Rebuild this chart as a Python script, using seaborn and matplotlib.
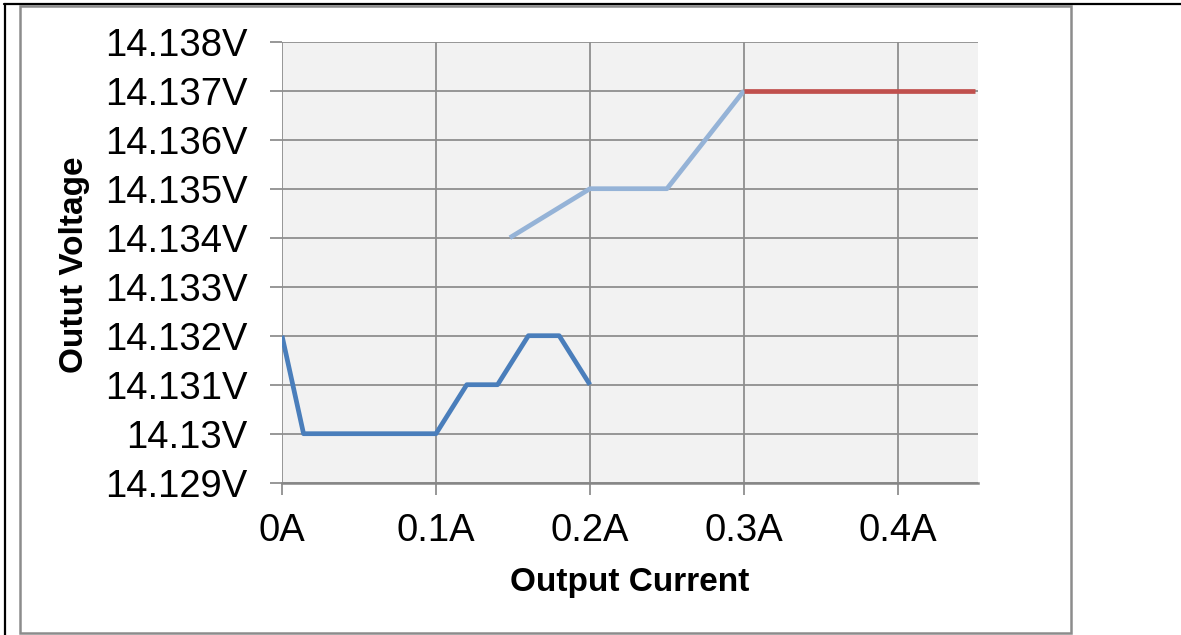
import matplotlib
matplotlib.use('Agg')

import seaborn as sns
import matplotlib.pyplot as plt
import pandas as pd
from matplotlib.lines import Line2D
from matplotlib.patches import Rectangle
from matplotlib.ticker import FuncFormatter, MultipleLocator

# measured series (current in A, voltage in V)
low_current = [0.0, 0.014, 0.1, 0.12, 0.14, 0.16, 0.18, 0.2]
low_voltage = [14.132, 14.130, 14.130, 14.131, 14.131, 14.132, 14.132, 14.131]

mid_current = [0.148, 0.2, 0.25, 0.3]
mid_voltage = [14.134, 14.135, 14.135, 14.137]

high_current = [0.3, 0.45]
high_voltage = [14.137, 14.137]

series_colors = ['#4A7EBB', '#95B3D7', '#C0504D']

W, H = 1181, 635
grid_color = '#8f8f8f'

sns.set_theme(style='white')
plt.rcParams['font.family'] = ['Liberation Sans', 'DejaVu Sans']

fig = plt.figure(figsize=(W / 100, H / 100), dpi=100)
ax = fig.add_axes([282 / W, 1 - 482.7 / H, (978 - 282) / W, (482.7 - 41.7) / H])
ax.set_facecolor('#f2f2f2')

frames = [
    pd.DataFrame({'current': low_current, 'voltage': low_voltage}),
    pd.DataFrame({'current': mid_current, 'voltage': mid_voltage}),
    pd.DataFrame({'current': high_current, 'voltage': high_voltage}),
]
for df, color in zip(frames, series_colors):
    sns.lineplot(data=df, x='current', y='voltage', ax=ax, color=color,
                 linewidth=3.4, solid_capstyle='butt', zorder=3)

ax.set_xlim(0, 0.452)
ax.set_ylim(14.129, 14.138)
ax.xaxis.set_major_locator(MultipleLocator(0.1))
ax.yaxis.set_major_locator(MultipleLocator(0.001))
ax.xaxis.set_major_formatter(FuncFormatter(lambda v, p: f'{round(v, 3):g}A'))
ax.yaxis.set_major_formatter(FuncFormatter(lambda v, p: f'{v:.3f}'.rstrip('0') + 'V'))

ax.grid(True, color=grid_color, linewidth=1.3)
ax.set_axisbelow(True)
for side in ['top', 'right', 'left']:
    ax.spines[side].set_visible(False)
ax.spines['bottom'].set_color('#868686')
ax.spines['bottom'].set_linewidth(1.8)
ax.tick_params(axis='both', which='major', direction='out', length=8.6, width=1.3,
               color=grid_color, labelsize=27.5, labelcolor='black',
               bottom=True, left=True)
ax.tick_params(axis='x', pad=13)
ax.tick_params(axis='y', pad=16)

ax.set_xlabel('Output Current', fontsize=24, fontweight='bold', va='center', color='black')
ax.xaxis.set_label_coords(630 / W, 1 - 582 / H, transform=fig.transFigure)
ax.set_ylabel('Outut Voltage', fontsize=24, fontweight='bold', va='center', color='black')
ax.yaxis.set_label_coords(74 / W, 1 - 265 / H, transform=fig.transFigure)

# chart border and page frame
fig.add_artist(Rectangle((19.5 / W, 1 - 633 / H), (1070.5 - 19.5) / W, (633 - 6) / H,
                         transform=fig.transFigure, fill=False,
                         edgecolor='#8c8c8c', linewidth=1.8))
fig.add_artist(Line2D([4 / W, 1], [1 - 4 / H, 1 - 4 / H], transform=fig.transFigure,
                      color='black', linewidth=1.6))
fig.add_artist(Line2D([5 / W, 5 / W], [0, 1 - 4 / H], transform=fig.transFigure,
                      color='black', linewidth=1.6))

plt.savefig('out.png', dpi=100)
plt.close()
